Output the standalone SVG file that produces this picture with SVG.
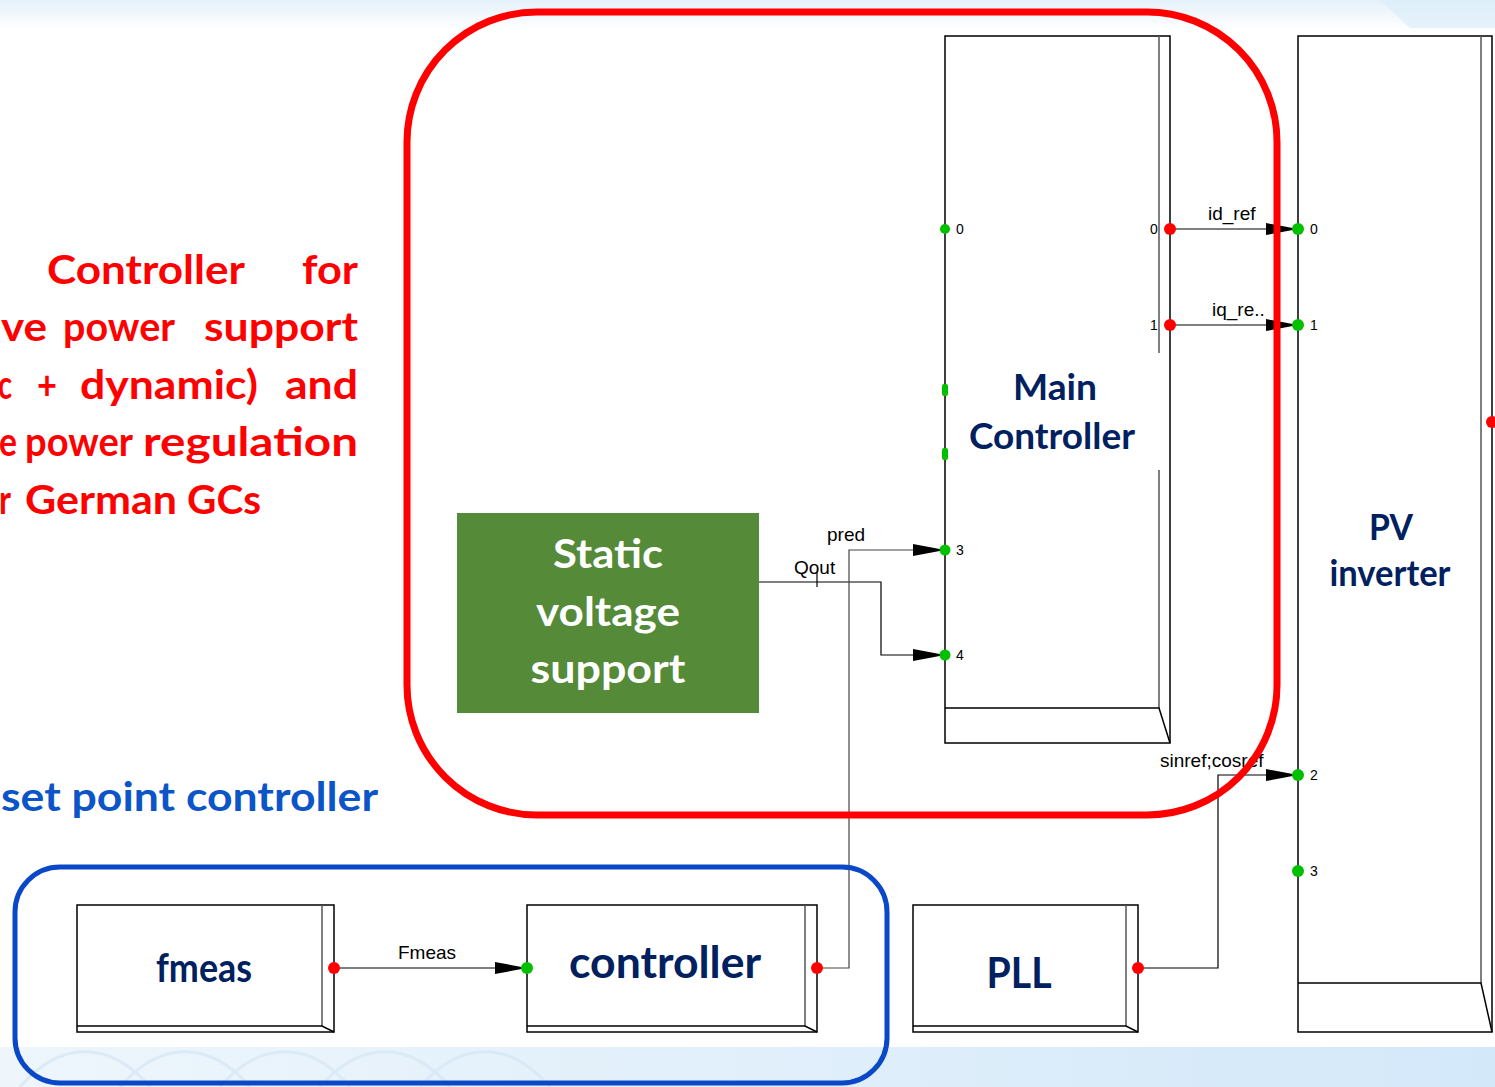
<svg xmlns="http://www.w3.org/2000/svg" width="1495" height="1087" viewBox="0 0 1495 1087">
  <defs>
    <linearGradient id="topBand" x1="0" y1="0" x2="0" y2="1">
      <stop offset="0" stop-color="#e4f1fa"/>
      <stop offset="1" stop-color="#ffffff"/>
    </linearGradient>
    <linearGradient id="bottomBand" x1="0" y1="0" x2="1" y2="0">
      <stop offset="0" stop-color="#eef6fc"/>
      <stop offset="1" stop-color="#d3e8f9"/>
    </linearGradient>
    <marker id="arrow" markerUnits="userSpaceOnUse" markerWidth="33" markerHeight="14" refX="32" refY="7" orient="auto">
      <path d="M0,1 L32,7 L0,13 Z" fill="#000"/>
    </marker>
    <style>
      .blk { fill: #fff; stroke: #000; stroke-width: 1.5; }
      .edge { fill: none; stroke: #000; stroke-width: 1.5; }
      .inner { fill: none; stroke: #555; stroke-width: 1.5; }
      .wire { fill: none; stroke: #000; stroke-width: 1.2; }
      .wireg { fill: none; stroke: #444; stroke-width: 1.2; }
      .in { fill: #00c000; }
      .out { fill: #ff0000; }
      .plbl { font-family: "Liberation Sans", Arial, sans-serif; font-size: 14px; fill: #000; }
      .sig { font-family: "Liberation Sans", Arial, sans-serif; font-size: 19px; fill: #000; }
      .title { font-family: Lato, "Open Sans", sans-serif; font-weight: bold; fill: #002060; text-anchor: middle; }
      .note { font-family: Lato, "Open Sans", sans-serif; font-weight: bold; font-size: 40px; }
    </style>
  </defs>

  <!-- page background -->
  <rect x="0" y="0" width="1495" height="1087" fill="#fff"/>
  <rect x="0" y="0" width="1495" height="30" fill="url(#topBand)"/>
  <polygon points="1380,0 1495,0 1495,28 1410,28" fill="#dcecf9" opacity="0.7"/>
  <rect x="0" y="1047" width="1495" height="40" fill="url(#bottomBand)"/>
  <path d="M20,1087 C60,1040 110,1040 150,1087 M120,1087 C160,1040 210,1040 250,1087 M220,1087 C260,1040 310,1040 350,1087 M320,1087 C360,1040 410,1040 450,1087 M420,1087 C460,1040 510,1040 550,1087" fill="none" stroke="#d4e6f4" stroke-width="3" opacity="0.7"/>

  <!-- explanatory notes (justified, words placed individually) -->
  <g id="notes" class="note" fill="#ff0000">
    <text x="47" y="284" textLength="198" lengthAdjust="spacingAndGlyphs">Controller</text>
    <text x="302" y="284" textLength="56" lengthAdjust="spacingAndGlyphs">for</text>

    <text x="1" y="341" textLength="46" lengthAdjust="spacingAndGlyphs">ve</text>
    <text x="63" y="341" textLength="112" lengthAdjust="spacingAndGlyphs">power</text>
    <text x="204" y="341" textLength="154" lengthAdjust="spacingAndGlyphs">support</text>

    <text x="-2" y="399" textLength="14" lengthAdjust="spacingAndGlyphs">c</text>
    <text x="37" y="399" textLength="20" lengthAdjust="spacingAndGlyphs">+</text>
    <text x="80" y="399" textLength="178" lengthAdjust="spacingAndGlyphs">dynamic)</text>
    <text x="285" y="399" textLength="73" lengthAdjust="spacingAndGlyphs">and</text>

    <text x="-1" y="456" textLength="18" lengthAdjust="spacingAndGlyphs">e</text>
    <text x="25" y="456" textLength="108" lengthAdjust="spacingAndGlyphs">power</text>
    <text x="143" y="456" textLength="215" lengthAdjust="spacingAndGlyphs">regulation</text>

    <text x="-1" y="514" textLength="12" lengthAdjust="spacingAndGlyphs">r</text>
    <text x="25" y="514" textLength="152" lengthAdjust="spacingAndGlyphs">German</text>
    <text x="187" y="514" textLength="74" lengthAdjust="spacingAndGlyphs">GCs</text>
  </g>
  <g id="note-setpoint">
    <text class="note" x="1" y="811" fill="#0b55c8" textLength="377" lengthAdjust="spacingAndGlyphs">set point controller</text>
  </g>

  <!-- connectors -->
  <g id="connectors">
    <path class="wire" d="M1170,229 H1298" marker-end="url(#arrow)"/>
    <path class="wire" d="M1170,325 H1298" marker-end="url(#arrow)"/>
    <path class="wire" d="M759,582 H881 V655 H945" marker-end="url(#arrow)"/>
    <path class="wireg" d="M817,968 H849 V550 H945" marker-end="url(#arrow)"/>
    <path class="wire" d="M334,968 H527" marker-end="url(#arrow)"/>
    <path class="wire" d="M1138,968 H1218 V775 H1298" marker-end="url(#arrow)"/>
    <line class="wire" x1="817" y1="572" x2="817" y2="587"/>
    <text class="sig" x="1208" y="220">id_ref</text>
    <text class="sig" x="1212" y="316">iq_re..</text>
    <text class="sig" x="827" y="541">pred</text>
    <text class="sig" x="794" y="574">Qout</text>
    <text class="sig" x="398" y="959">Fmeas</text>
    <text class="sig" x="1160" y="767">sinref;cosref</text>
  </g>

  <!-- Main Controller -->
  <g id="main-controller">
    <rect class="blk" x="945" y="36" width="225" height="707"/>
    <path class="inner" d="M1159,36 V353 M1159,470 V708"/>
    <path class="edge" d="M945,708 H1159 L1170,743"/>
    <text class="title" x="1055" y="400" font-size="36" textLength="84" lengthAdjust="spacingAndGlyphs">Main</text>
    <text class="title" x="1052" y="449" font-size="36" textLength="166" lengthAdjust="spacingAndGlyphs">Controller</text>
    <circle class="in" cx="945" cy="229" r="5"/>
    <rect class="in" x="942" y="384" width="6" height="12" rx="2"/>
    <rect class="in" x="942" y="448" width="6" height="12" rx="2"/>
    <circle class="in" cx="945" cy="550" r="5.5"/>
    <circle class="in" cx="945" cy="655" r="5.5"/>
    <circle class="out" cx="1170" cy="229" r="6"/>
    <circle class="out" cx="1170" cy="325" r="6"/>
    <text class="plbl" x="956" y="234">0</text>
    <text class="plbl" x="956" y="555">3</text>
    <text class="plbl" x="956" y="660">4</text>
    <text class="plbl" x="1150" y="234">0</text>
    <text class="plbl" x="1150" y="330">1</text>
  </g>

  <!-- PV inverter -->
  <g id="pv-inverter">
    <rect class="blk" x="1298" y="36" width="194" height="996"/>
    <path class="inner" d="M1481,36 V983"/>
    <path class="edge" d="M1298,983 H1481 L1492,1032"/>
    <text class="title" x="1391" y="540" font-size="36" textLength="44" lengthAdjust="spacingAndGlyphs">PV</text>
    <text class="title" x="1390" y="586" font-size="36" textLength="121" lengthAdjust="spacingAndGlyphs">inverter</text>
    <circle class="in" cx="1298" cy="229" r="6"/>
    <circle class="in" cx="1298" cy="325" r="6"/>
    <circle class="in" cx="1298" cy="775" r="6"/>
    <circle class="in" cx="1298" cy="871" r="6"/>
    <circle class="out" cx="1492" cy="422" r="6"/>
    <text class="plbl" x="1310" y="234">0</text>
    <text class="plbl" x="1310" y="330">1</text>
    <text class="plbl" x="1310" y="780">2</text>
    <text class="plbl" x="1310" y="876">3</text>
  </g>

  <!-- Static voltage support -->
  <g id="static-voltage-support">
    <rect x="457" y="513" width="302" height="200" fill="#548a38"/>
    <g font-family="Lato, 'Open Sans', sans-serif" font-weight="bold" font-size="40" fill="#fff" text-anchor="middle">
      <text x="608" y="568" textLength="110" lengthAdjust="spacingAndGlyphs">Static</text>
      <text x="608" y="626" textLength="144" lengthAdjust="spacingAndGlyphs">voltage</text>
      <text x="608" y="683" textLength="155" lengthAdjust="spacingAndGlyphs">support</text>
    </g>
  </g>

  <!-- fmeas -->
  <g id="fmeas">
    <rect class="blk" x="77" y="905" width="257" height="127"/>
    <path class="inner" d="M322,905 V1026"/>
    <path class="edge" d="M77,1026 H322 L334,1032"/>
    <text class="title" x="204" y="982" font-size="40" textLength="96" lengthAdjust="spacingAndGlyphs">fmeas</text>
    <circle class="out" cx="334" cy="968" r="6"/>
  </g>

  <!-- controller -->
  <g id="controller">
    <rect class="blk" x="527" y="905" width="290" height="127"/>
    <path class="inner" d="M805,905 V1026"/>
    <path class="edge" d="M527,1026 H805 L817,1032"/>
    <text class="title" x="665" y="978" font-size="44" textLength="192" lengthAdjust="spacingAndGlyphs">controller</text>
    <circle class="in" cx="527" cy="968" r="6"/>
    <circle class="out" cx="817" cy="968" r="6"/>
  </g>

  <!-- PLL -->
  <g id="pll">
    <rect class="blk" x="913" y="905" width="225" height="127"/>
    <path class="inner" d="M1126,905 V1026"/>
    <path class="edge" d="M913,1026 H1126 L1138,1032"/>
    <text class="title" x="1019" y="988" font-size="42" textLength="65" lengthAdjust="spacingAndGlyphs">PLL</text>
    <circle class="out" cx="1138" cy="968" r="6"/>
  </g>

  <!-- grouping frames -->
  <g id="frame-german-gc">
    <rect x="407" y="12" width="870" height="803" rx="130" ry="130" fill="none" stroke="#ff0000" stroke-width="7"/>
  </g>
  <g id="frame-setpoint">
    <rect x="15" y="867" width="872" height="216" rx="45" ry="45" fill="none" stroke="#0a48c8" stroke-width="5"/>
  </g>
</svg>
